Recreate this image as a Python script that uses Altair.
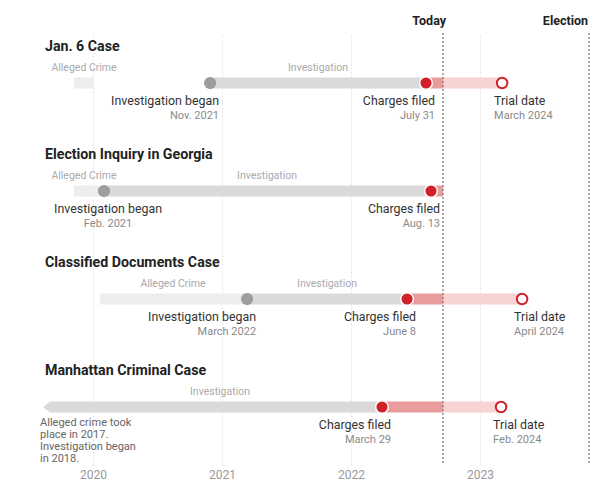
import altair as alt
import pandas as pd

FONT = "Roboto, Liberation Sans, sans-serif"

# ---- data (x values in the chart's axis units) ----
cases = ["Jan. 6 Case", "Election Inquiry in Georgia",
         "Classified Documents Case", "Manhattan Criminal Case"]
alleged_start = [2019.853, 2019.853, 2020.054, None]
alleged_end = [2020.008, 2020.085, 2021.194, None]
invest_start = [2020.907, 2020.085, 2021.194, 2019.667]
charges = [2022.581, 2022.620, 2022.434, 2022.240]
trial = [2023.171, None, 2023.326, 2023.163]
today = 2022.713
election = 2023.845

invest_date = ["Nov. 2021", "Feb. 2021", "March 2022", None]
charges_date = ["July 31", "Aug. 13", "June 8", "March 29"]
trial_date = ["March 2024", None, "April 2024", "Feb. 2024"]
invest_align = ["right", "center", "right", None]

alleged_label_x = [2019.930, 2019.930, 2020.620, None]
invest_label_x = [2021.744, 2021.349, 2021.814, 2020.984]

manhattan_note = "Alleged crime took\nplace in 2017.\nInvestigation began\nin 2018."
years = [2020, 2021, 2022, 2023]
markers = ["Today", "Election"]
marker_x = [today, election]
marker_dx = [3, -1]

# ---- tables built from the arrays ----
seg_rows = []
for i in range(len(cases)):
    if alleged_start[i] is not None:
        seg_rows.append(dict(row=i, start=alleged_start[i], end=alleged_end[i], kind="alleged"))
    seg_rows.append(dict(row=i, start=invest_start[i], end=charges[i], kind="invest"))
    seg_rows.append(dict(row=i, start=charges[i], end=today, kind="charged"))
    if trial[i] is not None:
        seg_rows.append(dict(row=i, start=today, end=trial[i], kind="future"))
segs = pd.DataFrame(seg_rows)

titles = pd.DataFrame({"row": range(4), "title": cases})

dots_gray = pd.DataFrame([dict(row=i, x=invest_start[i]) for i in range(3)])
dots_red = pd.DataFrame([dict(row=i, x=charges[i]) for i in range(4)])
dots_open = pd.DataFrame([dict(row=i, x=trial[i]) for i in range(4) if trial[i] is not None])
arrow = pd.DataFrame([dict(row=3, x=invest_start[3])])

lab_rows = []
for i in range(4):
    if invest_date[i] is not None:
        lab_rows.append(dict(row=i, x=invest_start[i], main="Investigation began",
                             sub=invest_date[i], align=invest_align[i]))
    lab_rows.append(dict(row=i, x=charges[i], main="Charges filed",
                         sub=charges_date[i], align="right"))
    if trial[i] is not None:
        lab_rows.append(dict(row=i, x=trial[i], main="Trial date",
                             sub=trial_date[i], align="left"))
labels = pd.DataFrame(lab_rows)

sec_rows = []
for i in range(4):
    if alleged_label_x[i] is not None:
        sec_rows.append(dict(row=i, x=alleged_label_x[i], text="Alleged Crime"))
    sec_rows.append(dict(row=i, x=invest_label_x[i], text="Investigation"))
sections = pd.DataFrame(sec_rows)

note = pd.DataFrame([dict(row=3, x=2019.589, text=manhattan_note)])
mk = pd.DataFrame({"x": marker_x, "label": markers, "dx": marker_dx})

# ---- scales ----
xscale = alt.Scale(domain=[2019.55, 2023.8523], nice=False, zero=False)
yscale = alt.Scale(domain=[-0.463, 3.537], reverse=True, nice=False, zero=False)
xaxis = alt.Axis(values=years, format="d", title=None, labelFontSize=12,
                 labelColor="#999999", labelFont=FONT, labelPadding=4,
                 domain=False, ticks=False, grid=True, gridColor="#e2e2e2",
                 gridDash=[2, 2], gridWidth=1)


def X(field):
    return alt.X(field, type="quantitative", scale=xscale, axis=xaxis)


def Y():
    return alt.Y("row:Q", scale=yscale, axis=None)


bars = alt.Chart(segs).mark_rule(strokeWidth=11, strokeCap="butt").encode(
    x=X("start"), x2="end", y=Y(),
    color=alt.Color("kind:N", legend=None, scale=alt.Scale(
        domain=["alleged", "invest", "charged", "future"],
        range=["#ededed", "#dadada", "#e89c9c", "#f8d3d3"])),
)

arrow_layer = alt.Chart(arrow).mark_point(
    shape="M -1.27 0 L 0 -1 L 0 1 Z", filled=True, size=121, color="#dadada", opacity=1
).encode(x=X("x"), y=Y())

rules = alt.Chart(mk).mark_rule(color="#777777", strokeDash=[2, 2], strokeWidth=1.2).encode(
    x=X("x"))

mk_layers = []
for lbl, dx in zip(markers, marker_dx):
    mk_layers.append(alt.Chart(mk[mk["label"] == lbl]).mark_text(
        align="right", baseline="middle", dx=dx, font=FONT,
        fontSize=12.5, fontWeight="bold", color="#222222").encode(
        x=X("x"), y=alt.value(-12), text="label:N"))

gray = alt.Chart(dots_gray).mark_point(shape="circle", filled=True, size=150,
                                        color="#9d9d9d", opacity=1).encode(x=X("x"), y=Y())
red = alt.Chart(dots_red).mark_point(shape="circle", filled=True, size=160, fill="#d0202a",
                                      stroke="white", strokeWidth=1.5, opacity=1).encode(x=X("x"), y=Y())
openc = alt.Chart(dots_open).mark_point(shape="circle", filled=True, size=110, fill="white",
                                         stroke="#d0202a", strokeWidth=2, opacity=1).encode(x=X("x"), y=Y())

title_layer = alt.Chart(titles).mark_text(align="left", baseline="middle", dy=-36, font=FONT,
                                          fontSize=14.2, fontWeight="bold", color="#222222").encode(
    x=alt.value(10), y=Y(), text="title:N")

sec_layer = alt.Chart(sections).mark_text(align="center", baseline="middle", dy=-15, font=FONT,
                                          fontSize=10.5, color="#aaaaaa").encode(
    x=X("x"), y=Y(), text="text:N")

note_layer = alt.Chart(note).mark_text(align="left", baseline="top", dy=10, font=FONT,
                                       fontSize=11, lineHeight=12, lineBreak="\n",
                                       color="#666666").encode(x=X("x"), y=Y(), text="text:N")

label_layers = []
for al, dx in [("right", 9), ("left", -8), ("center", 4)]:
    sub = labels[labels["align"] == al]
    label_layers.append(alt.Chart(sub).mark_text(align=al, baseline="middle", dx=dx, dy=18,
                                                 font=FONT, fontSize=12.4, color="#333333").encode(
        x=X("x"), y=Y(), text="main:N"))
    label_layers.append(alt.Chart(sub).mark_text(align=al, baseline="middle", dx=dx, dy=33,
                                                 font=FONT, fontSize=11, color="#8a8a8a").encode(
        x=X("x"), y=Y(), text="sub:N"))

chart = alt.layer(
    bars, arrow_layer, rules, *mk_layers, gray, red, openc, title_layer, sec_layer, note_layer,
    *label_layers
).properties(
    width=555, height=432,
    autosize=alt.AutoSizeParams(type="none"),
    padding={"left": 27, "top": 25, "right": 0, "bottom": 16},
    background="white",
).configure_view(stroke=None)

chart.save("out.html", embed_options={"renderer": "svg", "actions": False})
